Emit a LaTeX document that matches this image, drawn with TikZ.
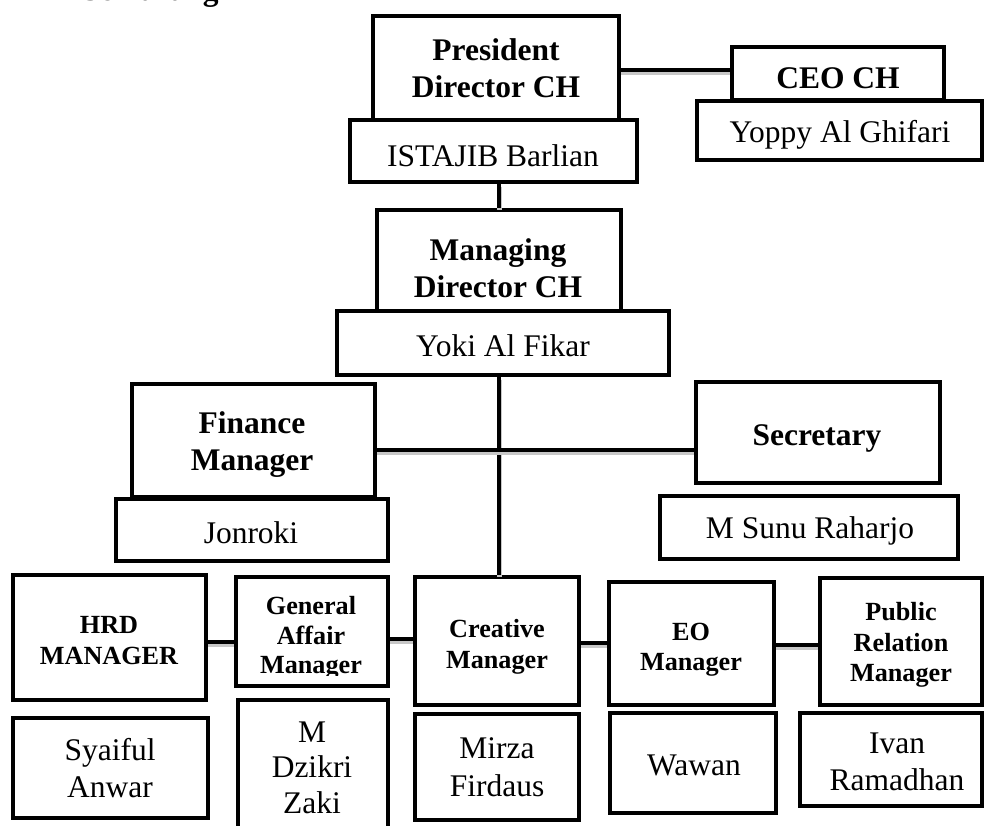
\documentclass[tikz,border=0pt]{standalone}
\usepackage{fontspec}
\setmainfont{Liberation Serif}
\begin{document}
\begin{tikzpicture}[x=1pt,y=-1pt,
  box/.style={draw=black, line width=4.2pt, fill=white, inner sep=0pt},
  conn/.style={line width=4pt, preaction={draw=black!22, line width=5pt, transform canvas={yshift=-2.5pt}}},
  big/.style={font=\fontsize{31.5}{37}\selectfont, inner sep=0pt, anchor=base},
  bigb/.style={font=\fontsize{31.5}{37}\selectfont\bfseries, inner sep=0pt, anchor=base},
  smb/.style={font=\fontsize{26.2}{30}\selectfont\bfseries, inner sep=0pt, anchor=base}]
\newcommand\bx[5]{\node[box, minimum width={(#4)-(#2)}, minimum height={(#5)-(#3)}] (#1) at ({((#2)+(#4))/2},{((#3)+(#5))/2}) {};}
\useasboundingbox (0,0) rectangle (984,825);
\fill[white] (0,0) rectangle (984,825);

% header text (cut off at top)
\node[bigb, anchor=base west] (sem) at (82,0.5) {Semarang};

% helper coordinates for connector heights
\coordinate (h70) at (0,70);
\coordinate (h450) at (0,450);
\coordinate (h642) at (0,642);
\coordinate (h639) at (0,639);
\coordinate (h643) at (0,643);
\coordinate (h645) at (0,645);

% boxes
\bx{pres}{373}{16}{619}{120}
\bx{ista}{350}{120}{637}{182}
\bx{ceo}{732}{47}{944}{100}
\bx{yop}{697}{101}{982}{160}
\bx{mgd}{377}{210}{621}{311}
\bx{yoki}{337}{311}{669}{375}
\bx{fin}{132}{384}{375}{497}
\bx{jon}{116}{499}{388}{561}
\bx{sec}{696}{382}{940}{483}
\bx{sunu}{660}{496}{958}{559}
\bx{hrd}{13}{575}{206}{700}
\bx{ga}{236}{577}{388}{686}
\bx{cre}{415}{577}{579}{705}
\bx{eo}{609}{582}{774}{705}
\bx{pr}{820}{578}{982}{705}
\bx{sya}{13}{718}{208}{818}
\bx{dzi}{238}{700}{388}{850}
\bx{mir}{415}{714}{579}{820}
\bx{waw}{610}{713}{776}{813}
\bx{ivan}{800}{713}{982}{806}

% connectors
\draw[conn] (pres.east |- h70) -- (ceo.west |- h70);
\draw[conn] (mgd.north |- ista.south) -- (mgd.north);
\draw[conn] (yoki.south -| mgd.north) -- (cre.north -| mgd.north);
\draw[conn] (fin.east |- h450) -- (sec.west |- h450);
\draw[conn] (hrd.east |- h642) -- (ga.west |- h642);
\draw[conn] (ga.east |- h639) -- (cre.west |- h639);
\draw[conn] (cre.east |- h643) -- (eo.west |- h643);
\draw[conn] (eo.east |- h645) -- (pr.west |- h645);

% texts
\node[bigb] (pres1) at (496,60) {President};
\node[bigb] (pres2) at (496,97) {Director CH};
\node[big]  (ista1) at (493,166) {ISTAJIB Barlian};
\node[bigb] (ceo1)  at (838,88) {CEO CH};
\node[big]  (yop1)  at (840,142) {Yoppy Al Ghifari};
\node[bigb] (mgd1)  at (498,260) {Managing};
\node[bigb] (mgd2)  at (498,297) {Director CH};
\node[big]  (yoki1) at (503,356) {Yoki Al Fikar};
\node[bigb] (fin1)  at (252,433) {Finance};
\node[bigb] (fin2)  at (252,470) {Manager};
\node[big]  (jon1)  at (251,543) {Jonroki};
\node[bigb] (sec1)  at (817,445) {Secretary};
\node[big]  (sunu1) at (810,538) {M Sunu Raharjo};

\node[smb] (hrd1) at (109,633) {HRD};
\node[smb] (hrd2) at (109,664) {MANAGER};
\node[smb] (ga1)  at (311,614) {General};
\node[smb] (ga2)  at (311,644) {Affair};
\begin{scope}
\clip (236,577) rectangle (388,675);
\node[smb] (ga3)  at (311,673) {Manager};
\end{scope}
\node[smb] (cre1) at (497,637) {Creative};
\node[smb] (cre2) at (497,668) {Manager};
\node[smb] (eo1)  at (691,640) {EO};
\node[smb] (eo2)  at (691,670) {Manager};
\node[smb] (pr1)  at (901,620) {Public};
\node[smb] (pr2)  at (901,651) {Relation};
\node[smb] (pr3)  at (901,681) {Manager};

\node[big] (sya1) at (110,760) {Syaiful};
\node[big] (sya2) at (110,797) {Anwar};
\node[big] (dzi1) at (312,742) {M};
\node[big] (dzi2) at (312,777) {Dzikri};
\node[big] (dzi3) at (312,813) {Zaki};
\node[big] (mir1) at (497,758) {Mirza};
\node[big] (mir2) at (497,796) {Firdaus};
\node[big] (waw1) at (694,775) {Wawan};
\node[big] (ivan1) at (897,753) {Ivan};
\node[big] (ivan2) at (897,790) {Ramadhan};
\end{tikzpicture}
\end{document}
